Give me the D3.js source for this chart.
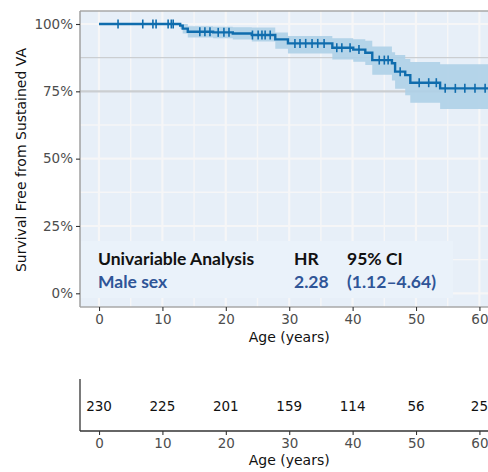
<!DOCTYPE html>
<html><head><meta charset="utf-8">
<script src="https://cdn.jsdelivr.net/npm/d3@7/dist/d3.min.js"></script>
<style>
html,body{margin:0;padding:0;background:#fff;}
svg{display:block;}
</style>
</head><body>
<svg id="chart" width="488" height="472"></svg>
<script>
// ---- data ----
const stepTimes = [0, 12.8, 13.2, 14.0, 18.0, 21.1, 24.1, 27.8, 29.8, 36.8, 40.1, 42.0, 43.1, 46.2, 46.7, 48.3, 49.1, 53.8, 63];
const survival  = [1.0, 0.994, 0.983, 0.971, 0.969, 0.965, 0.959, 0.943, 0.928, 0.912, 0.905, 0.893, 0.866, 0.854, 0.823, 0.810, 0.782, 0.761, 0.761];
const lowerCI   = [1.0, 0.982, 0.965, 0.950, 0.947, 0.942, 0.935, 0.908, 0.890, 0.868, 0.860, 0.848, 0.812, 0.790, 0.760, 0.735, 0.708, 0.684, 0.684];
const upperCI   = [1.0, 1.0, 1.0, 0.992, 0.990, 0.988, 0.987, 0.968, 0.955, 0.947, 0.943, 0.938, 0.916, 0.895, 0.885, 0.870, 0.859, 0.851, 0.851];
const censorTimes = [3.0, 6.9, 8.5, 9.0, 10.9, 11.4, 11.7, 15.9, 16.7, 17.5, 18.8, 19.7, 20.5, 24.2, 25.1, 25.7, 26.2, 27.0,
  30.9, 31.7, 32.6, 33.6, 34.5, 35.5, 37.5, 38.3, 39.6, 41.0, 44.2, 45.0, 45.6, 47.5, 50.5, 52.0, 53.2, 54.6, 56.2, 57.7, 59.3, 60.9];
const xTicks = [0, 10, 20, 30, 40, 50, 60];
const yTicks = [0, 0.25, 0.5, 0.75, 1.0];
const riskNumbers = [230, 225, 201, 159, 114, 56, 25];
const annotHeader = ["Univariable Analysis", "HR", "95% CI"];
const annotRow = ["Male sex", "2.28", "(1.12\u20134.64)"];

// ---- layout ----
const svg = d3.select("#chart");
const panel = {left: 80, top: 11, bottom: 307};
const x = d3.scaleLinear().domain([-3, 63]).range([80, 80 + 66 * 6.34]);
const y = d3.scaleLinear().domain([0, 1]).range([293.3, 24]);

const lineColor = "#0f6cad";
const bandColor = "#aed0e7";
const tickFont = "DejaVu Sans";

svg.append("defs").append("clipPath").attr("id", "pclip")
  .append("rect").attr("x", panel.left).attr("y", panel.top)
  .attr("width", 488 - panel.left).attr("height", panel.bottom - panel.top);

const g = svg.append("g").attr("clip-path", "url(#pclip)");
g.append("rect").attr("x", panel.left).attr("y", panel.top)
  .attr("width", 488 - panel.left).attr("height", panel.bottom - panel.top)
  .attr("fill", "#e7eff8");

// grid
const majorX = d3.range(0, 71, 10);
const minorX = [5, 15, 25, 35, 45, 55, 65];
const minorY = [0.125, 0.375, 0.625, 0.875];
const gridCol = "#f6f6f7";
g.selectAll(".gxm").data(minorX).join("line")
  .attr("x1", d => x(d)).attr("x2", d => x(d)).attr("y1", panel.top).attr("y2", panel.bottom)
  .attr("stroke", gridCol).attr("stroke-width", 1.4);
g.selectAll(".gxM").data(majorX).join("line")
  .attr("x1", d => x(d)).attr("x2", d => x(d)).attr("y1", panel.top).attr("y2", panel.bottom)
  .attr("stroke", gridCol).attr("stroke-width", 2.2);
g.selectAll(".gym").data(minorY).join("line")
  .attr("x1", panel.left).attr("x2", 488).attr("y1", d => y(d)).attr("y2", d => y(d))
  .attr("stroke", d => d === 0.875 ? "#cbced1" : gridCol).attr("stroke-width", 1.4);
g.selectAll(".gyM").data(yTicks).join("line")
  .attr("x1", panel.left).attr("x2", 488).attr("y1", d => y(d)).attr("y2", d => y(d))
  .attr("stroke", d => d === 0.75 ? "#cbced1" : gridCol).attr("stroke-width", 2.2);

// annotation box
g.append("rect").attr("x", panel.left).attr("y", 241).attr("width", 453 - panel.left).attr("height", 57)
  .attr("fill", "#eaf2fa");

// CI band & curve
const pts = stepTimes.map((t, i) => ({t, s: survival[i], lo: lowerCI[i], hi: upperCI[i]}));
g.append("path").datum(pts)
  .attr("d", d3.area().curve(d3.curveStepAfter).x(d => x(d.t)).y0(d => y(d.lo)).y1(d => y(d.hi)))
  .attr("fill", bandColor).attr("opacity", 0.9);
g.append("path").datum(pts)
  .attr("d", d3.line().curve(d3.curveStepAfter).x(d => x(d.t)).y(d => y(d.s)))
  .attr("fill", "none").attr("stroke", lineColor).attr("stroke-width", 2.4);

function survAt(t) {
  let s = 1;
  for (let i = 0; i < stepTimes.length; i++) if (stepTimes[i] <= t) s = survival[i];
  return s;
}
g.selectAll(".cens").data(censorTimes).join("line")
  .attr("x1", d => x(d)).attr("x2", d => x(d))
  .attr("y1", d => y(survAt(d)) - 4.5).attr("y2", d => y(survAt(d)) + 4.5)
  .attr("stroke", lineColor).attr("stroke-width", 1.6);

// panel border
svg.append("line").attr("x1", panel.left).attr("x2", 488).attr("y1", panel.top).attr("y2", panel.top)
  .attr("stroke", "#a8a8a8").attr("stroke-width", 1.5);
svg.append("line").attr("x1", panel.left).attr("x2", 488).attr("y1", panel.bottom).attr("y2", panel.bottom)
  .attr("stroke", "#a8a8a8").attr("stroke-width", 1.5);
svg.append("line").attr("x1", panel.left).attr("x2", panel.left).attr("y1", panel.top).attr("y2", panel.bottom)
  .attr("stroke", "#a0a0a0").attr("stroke-width", 1.5);

// annotation text
const annot = svg.append("g").attr("font-family", "Lato, 'Open Sans', sans-serif").attr("font-weight", "bold").attr("font-size", 17.5);
const colX = [98, 294, 347];
annot.selectAll(".h").data(annotHeader).join("text")
  .attr("x", (d, i) => colX[i]).attr("y", 265).attr("fill", "#111").text(d => d);
annot.selectAll(".r").data(annotRow).join("text")
  .attr("x", (d, i) => colX[i]).attr("y", 288).attr("fill", "#2f5597").text(d => d);

// y axis
const yAxis = d3.axisLeft(y).tickValues(yTicks).tickFormat(d3.format(".0%")).tickSize(4).tickPadding(3);
const ya = svg.append("g").attr("transform", `translate(${panel.left},0)`).call(yAxis);
ya.select(".domain").remove();
ya.selectAll(".tick line").attr("stroke", "#333").attr("stroke-width", 1.1);
ya.selectAll(".tick text").attr("font-family", tickFont).attr("font-size", 13.5).attr("fill", "#4d4d4d");

// x axis (main)
const xAxis = d3.axisBottom(x).tickValues(xTicks).tickSize(4).tickPadding(3);
const xa = svg.append("g").attr("transform", `translate(0,${panel.bottom})`).call(xAxis);
xa.select(".domain").remove();
xa.selectAll(".tick line").attr("stroke", "#333").attr("stroke-width", 1.1);
xa.selectAll(".tick text").attr("font-family", tickFont).attr("font-size", 13.5).attr("fill", "#4d4d4d");

svg.append("text").attr("x", x(30)).attr("y", 342).attr("text-anchor", "middle")
  .attr("font-family", tickFont).attr("font-size", 14).attr("fill", "#111").text("Age (years)");
svg.append("text").attr("transform", `translate(26,${(panel.top + panel.bottom) / 2 + 1}) rotate(-90)`)
  .attr("text-anchor", "middle").attr("font-family", tickFont).attr("font-size", 14).attr("fill", "#111")
  .text("Survival Free from Sustained VA");

// risk table
const rt = {top: 379, bottom: 431};
svg.append("line").attr("x1", panel.left).attr("x2", panel.left).attr("y1", rt.top).attr("y2", rt.bottom)
  .attr("stroke", "#333").attr("stroke-width", 1.3);
const xAxis2 = d3.axisBottom(x).tickValues(xTicks).tickSize(4).tickPadding(3);
const xb = svg.append("g").attr("transform", `translate(0,${rt.bottom})`).call(xAxis2);
xb.select(".domain").attr("d", `M${panel.left},0H488`).attr("stroke", "#333").attr("stroke-width", 1.3);
xb.selectAll(".tick line").attr("stroke", "#333").attr("stroke-width", 1.1);
xb.selectAll(".tick text").attr("font-family", tickFont).attr("font-size", 13.5).attr("fill", "#4d4d4d");
svg.selectAll(".risk").data(riskNumbers).join("text")
  .attr("x", (d, i) => x(xTicks[i])).attr("y", 411).attr("text-anchor", "middle")
  .attr("font-family", tickFont).attr("font-size", 13.5).attr("fill", "#111").text(d => d);
svg.append("text").attr("x", x(30)).attr("y", 465).attr("text-anchor", "middle")
  .attr("font-family", tickFont).attr("font-size", 14).attr("fill", "#111").text("Age (years)");
</script>
</body></html>
